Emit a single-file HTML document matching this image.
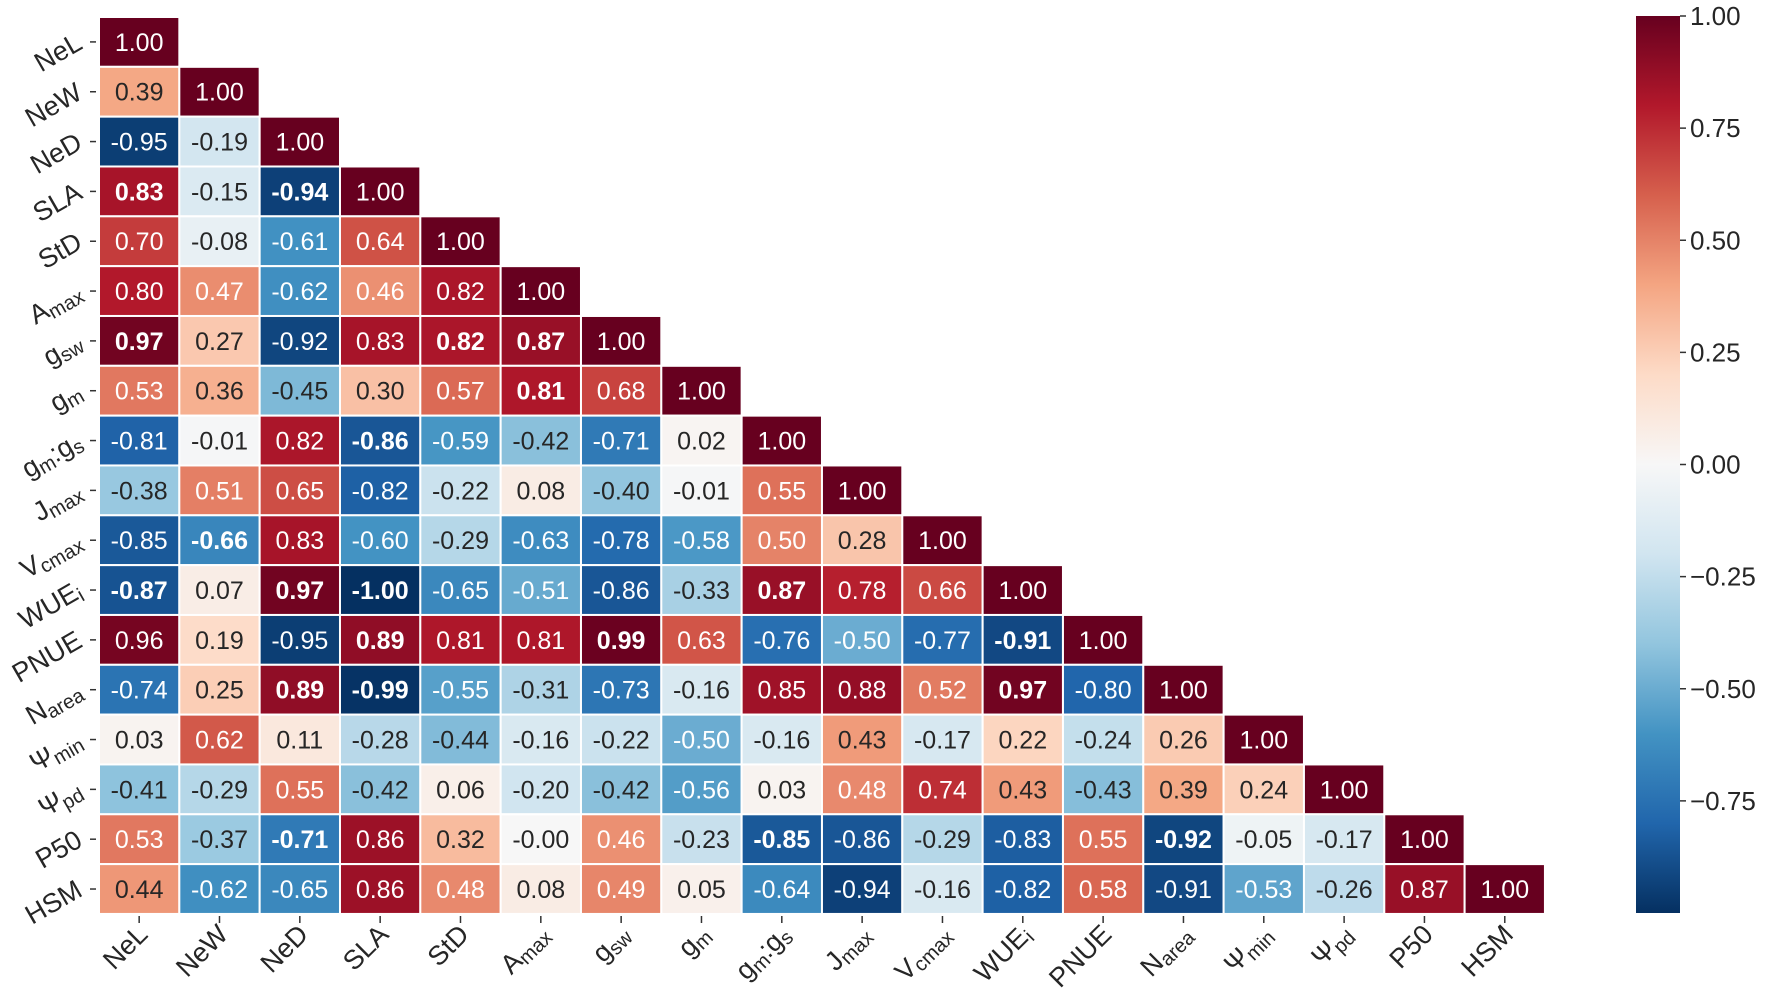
<!DOCTYPE html>
<html><head><meta charset="utf-8">
<style>
html,body{margin:0;padding:0;background:#fff;}
svg{display:block;font-family:"Liberation Sans","DejaVu Sans",sans-serif;}
</style></head>
<body>
<svg id="chart" width="1769" height="1004" viewBox="0 0 1769 1004" xmlns="http://www.w3.org/2000/svg">
<defs>
<linearGradient id="cbgrad" x1="0" y1="1" x2="0" y2="0">
<stop offset="0" stop-color="#053061"/><stop offset="0.1" stop-color="#2166ac"/>
<stop offset="0.2" stop-color="#4393c3"/><stop offset="0.3" stop-color="#92c5de"/>
<stop offset="0.4" stop-color="#d1e5f0"/><stop offset="0.5" stop-color="#f7f7f7"/>
<stop offset="0.6" stop-color="#fddbc7"/><stop offset="0.7" stop-color="#f4a582"/>
<stop offset="0.8" stop-color="#d6604d"/><stop offset="0.9" stop-color="#b2182b"/>
<stop offset="1" stop-color="#67001f"/>
</linearGradient>
</defs>
<g id="cells"></g>
<g id="ylab"></g>
<g id="xlab"></g>
<g id="cbar"></g>
</svg>
<script>
// variable labels: [base, subscript]
const labels = [["NeL",""],["NeW",""],["NeD",""],["SLA",""],["StD",""],["A","max"],["g","sw"],["g","m"],["g","m",":g","s"],["J","max"],["V","cmax"],["WUE","i"],["PNUE",""],["N","area"],["\u03A8","min"],["\u03A8","pd"],["P50",""],["HSM",""]];
const r0 = [1];
const r1 = [0.39,1];
const r2 = [-0.95,-0.19,1];
const r3 = [0.83,-0.15,-0.94,1];
const r4 = [0.70,-0.08,-0.61,0.64,1];
const r5 = [0.80,0.47,-0.62,0.46,0.82,1];
const r6 = [0.97,0.27,-0.92,0.83,0.82,0.87,1];
const r7 = [0.53,0.36,-0.45,0.30,0.57,0.81,0.68,1];
const r8 = [-0.81,-0.01,0.82,-0.86,-0.59,-0.42,-0.71,0.02,1];
const r9 = [-0.38,0.51,0.65,-0.82,-0.22,0.08,-0.40,-0.01,0.55,1];
const r10 = [-0.85,-0.66,0.83,-0.60,-0.29,-0.63,-0.78,-0.58,0.50,0.28,1];
const r11 = [-0.87,0.07,0.97,-1.00,-0.65,-0.51,-0.86,-0.33,0.87,0.78,0.66,1];
const r12 = [0.96,0.19,-0.95,0.89,0.81,0.81,0.99,0.63,-0.76,-0.50,-0.77,-0.91,1];
const r13 = [-0.74,0.25,0.89,-0.99,-0.55,-0.31,-0.73,-0.16,0.85,0.88,0.52,0.97,-0.80,1];
const r14 = [0.03,0.62,0.11,-0.28,-0.44,-0.16,-0.22,-0.50,-0.16,0.43,-0.17,0.22,-0.24,0.26,1];
const r15 = [-0.41,-0.29,0.55,-0.42,0.06,-0.20,-0.42,-0.56,0.03,0.48,0.74,0.43,-0.43,0.39,0.24,1];
const r16 = [0.53,-0.37,-0.71,0.86,0.32,-0.001,0.46,-0.23,-0.85,-0.86,-0.29,-0.83,0.55,-0.92,-0.05,-0.17,1];
const r17 = [0.44,-0.62,-0.65,0.86,0.48,0.08,0.49,0.05,-0.64,-0.94,-0.16,-0.82,0.58,-0.91,-0.53,-0.26,0.87,1];
const values = [r0,r1,r2,r3,r4,r5,r6,r7,r8,r9,r10,r11,r12,r13,r14,r15,r16,r17];
// bold (significant) cells as "row,col"
const boldCells = ["3,0","3,2","6,0","6,4","6,5","7,5","8,3","10,1","11,0","11,2","11,3","11,8","12,3","12,6","12,11","13,2","13,3","13,11","16,2","16,8","16,13"];
const cbTicks = [1.0,0.75,0.5,0.25,0,-0.25,-0.5,-0.75];

const NS="http://www.w3.org/2000/svg";
const X0=99, Y0=17, CW=80.33, CH=49.83, N=labels.length;
const xPos=j=>X0+j*CW, yPos=i=>Y0+i*CH;
const CB_X=1636, CB_W=44, CB_T=16, CB_B=913;
const cbY=v=>CB_B-(v+1)/2*(CB_B-CB_T);
const stops=["#053061","#2166ac","#4393c3","#92c5de","#d1e5f0","#f7f7f7","#fddbc7","#f4a582","#d6604d","#b2182b","#67001f"];
function hex(h){return [1,3,5].map(k=>parseInt(h.substr(k,2),16));}
function cmap(v){let t=(v+1)/2*10;t=Math.max(0,Math.min(10,t));let k=Math.min(9,Math.floor(t));let f=t-k;let a=hex(stops[k]),b=hex(stops[k+1]);return a.map((c,m)=>Math.round(c+(b[m]-c)*f));}
function lum(c){const l=c.map(x=>{x/=255;return x<=0.03928?x/12.92:Math.pow((x+0.055)/1.055,2.4);});return 0.2126*l[0]+0.7152*l[1]+0.0722*l[2];}
function mk(tag,attrs,parent){const e=document.createElementNS(NS,tag);for(const k in attrs)e.setAttribute(k,attrs[k]);parent.appendChild(e);return e;}
function addLabel(t,lab){
  for(let p=0;p<lab.length;p++){
    if(!lab[p])continue;
    const ts=document.createElementNS(NS,"tspan");
    ts.textContent=lab[p];
    if(p%2===1){ts.setAttribute("font-size","20");ts.setAttribute("dy","4");}
    else if(p>0){ts.setAttribute("dy","-4");}
    t.appendChild(ts);
  }
}
const cells=document.getElementById("cells");
for(let i=0;i<N;i++){
  for(let j=0;j<=i;j++){
    const v=values[i][j];
    const c=cmap(v);
    const r=mk("rect",{x:xPos(j),y:yPos(i),width:CW,height:CH,fill:`rgb(${c})`,stroke:"#fff","stroke-width":2},cells);
    
    
    const t=mk("text",{x:xPos(j)+CW/2,y:yPos(i)+CH/2+9,"text-anchor":"middle","font-size":25,fill:lum(c)<0.408?"#fff":"#262626"},cells);
    if(boldCells.includes(i+","+j))t.setAttribute("font-weight","bold");
    t.textContent=v.toFixed(2);
    
    
  }
}
const yl=document.getElementById("ylab"), xl=document.getElementById("xlab");
for(let i=0;i<N;i++){
  const cy=yPos(i)+CH/2;
  mk("line",{x1:90,x2:96,y1:cy,y2:cy,stroke:"#333","stroke-width":1.5},yl);
  const t=mk("text",{x:0,y:0,"text-anchor":"end","font-size":27,fill:"#262626",transform:`translate(84,${cy+6}) rotate(-30)`},yl);
  addLabel(t,labels[i]);
  
  
  const cx=xPos(i)+CW/2;
  mk("line",{x1:cx,x2:cx,y1:916,y2:923,stroke:"#333","stroke-width":1.5},xl);
  const u=mk("text",{x:0,y:0,"text-anchor":"end","font-size":27,fill:"#262626",transform:`translate(${cx+10},${936}) rotate(-45)`},xl);
  addLabel(u,labels[i]);
  
  
}
const cb=document.getElementById("cbar");
const bar=mk("rect",{x:CB_X,y:CB_T,width:CB_W,height:CB_B-CB_T,fill:"url(#cbgrad)"},cb);


for(const tv of cbTicks){
  const y=cbY(tv);
  mk("line",{x1:CB_X+CB_W,x2:CB_X+CB_W+6,y1:y,y2:y,stroke:"#333","stroke-width":1.5},cb);
  const t=mk("text",{x:CB_X+CB_W+10,y:y+9,"font-size":26,fill:"#262626"},cb);
  t.textContent=(tv<0?"\u2212":"")+Math.abs(tv).toFixed(2);
  
  
}
</script>
</body></html>
